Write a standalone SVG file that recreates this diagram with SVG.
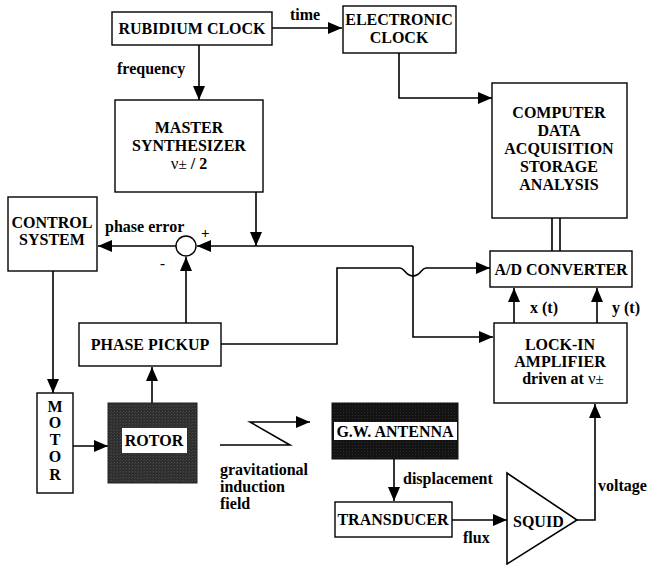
<svg xmlns="http://www.w3.org/2000/svg" width="649" height="565" viewBox="0 0 649 565">
<defs>
<marker id="arr" markerUnits="userSpaceOnUse" markerWidth="16" markerHeight="14" refX="14" refY="6" orient="auto">
<path d="M0,0 L14,6 L0,12 z" fill="#000"/>
</marker>
<pattern id="tex" width="3" height="3" patternUnits="userSpaceOnUse">
<rect width="3" height="3" fill="#2e2e2e"/>
<rect x="0" y="0" width="1" height="1" fill="#4a4a4a"/>
<rect x="2" y="1" width="1" height="1" fill="#404040"/>
</pattern>
<pattern id="tex2" width="3" height="3" patternUnits="userSpaceOnUse">
<rect width="3" height="3" fill="#131313"/>
<rect x="1" y="1" width="1" height="1" fill="#2c2c2c"/>
</pattern>
</defs>
<style>
.box{fill:#fff;stroke:#000;stroke-width:1.4}
.t{font-family:"Liberation Serif","Times New Roman",serif;font-weight:bold;font-size:16px;fill:#000}
.c{text-anchor:middle}
.ln{fill:none;stroke:#000;stroke-width:1.6}
</style>
<rect width="649" height="565" fill="#fff"/>

<g id="connectors">
<path class="ln" d="M272,28 H342" marker-end="url(#arr)"/>
<path class="ln" d="M199,45 V100" marker-end="url(#arr)"/>
<path class="ln" d="M399,53 V98 H492" marker-end="url(#arr)"/>
<path class="ln" d="M552,218 V251 M560,218 V251"/>
<path class="ln" d="M256,192 V246" marker-end="url(#arr)"/>
<path class="ln" d="M413,246 H197" marker-end="url(#arr)"/>
<path class="ln" d="M176,246 H98" marker-end="url(#arr)"/>
<path class="ln" d="M186,323 V257" marker-end="url(#arr)"/>
<path class="ln" d="M413,246 V337 H493" marker-end="url(#arr)"/>
<path class="ln" d="M221,344 H337 V268 H400 C405,268 405,276 413,276 C421,276 421,268 426,268 H490" marker-end="url(#arr)"/>
<path class="ln" d="M514,323 V288" marker-end="url(#arr)"/>
<path class="ln" d="M597,323 V288" marker-end="url(#arr)"/>
<path class="ln" d="M53,271 V393" marker-end="url(#arr)"/>
<path class="ln" d="M73,446 H108" marker-end="url(#arr)"/>
<path class="ln" d="M152,403 V367" marker-end="url(#arr)"/>
<path class="ln" d="M220,445 H290 L250,422 H310" marker-end="url(#arr)"/>
<path class="ln" d="M394,459 V501" marker-end="url(#arr)"/>
<path class="ln" d="M452,520 H507" marker-end="url(#arr)"/>
<path class="ln" d="M577,520 H595 V404" marker-end="url(#arr)"/>
<text class="t" x="290" y="20">time</text>
<text class="t" x="117" y="74">frequency</text>
<text class="t" x="105" y="232">phase error</text>
<text class="t" x="201" y="238" style="font-size:15px">+</text>
<text class="t" x="160" y="268" style="font-size:15px">-</text>
<text class="t" x="530" y="313">x (t)</text>
<text class="t" x="612" y="313">y (t)</text>
<text class="t" x="220" y="475">gravitational</text>
<text class="t" x="220" y="492">induction</text>
<text class="t" x="220" y="509">field</text>
<text class="t" x="403" y="484">displacement</text>
<text class="t" x="463" y="543">flux</text>
<text class="t" x="598" y="491">voltage</text>
</g>

<g id="rubidium">
<rect class="box" x="112" y="12" width="160" height="33"/>
<text class="t c" x="192" y="34">RUBIDIUM CLOCK</text>
</g>
<g id="electronic">
<rect class="box" x="343" y="6" width="113" height="47"/>
<text class="t c" x="399" y="25">ELECTRONIC</text>
<text class="t c" x="399" y="43">CLOCK</text>
</g>
<g id="master">
<rect class="box" x="115" y="100" width="148" height="92"/>
<text class="t c" x="189" y="133">MASTER</text>
<text class="t c" x="189" y="151">SYNTHESIZER</text>
<text class="t c" x="189" y="169"><tspan font-weight="normal" font-size="17">ν</tspan><tspan font-weight="normal" font-size="15">±</tspan> / 2</text>
</g>
<g id="computer">
<rect class="box" x="492" y="83" width="135" height="135"/>
<text class="t c" x="559" y="118">COMPUTER</text>
<text class="t c" x="559" y="136">DATA</text>
<text class="t c" x="559" y="154">ACQUISITION</text>
<text class="t c" x="559" y="172">STORAGE</text>
<text class="t c" x="559" y="190">ANALYSIS</text>
</g>
<g id="control">
<rect class="box" x="8" y="197" width="89" height="74"/>
<text class="t c" x="52" y="228">CONTROL</text>
<text class="t c" x="52" y="245">SYSTEM</text>
</g>
<g id="sum">
<circle cx="186" cy="246" r="10" fill="#fff" stroke="#000" stroke-width="1.4"/>
</g>
<g id="adc">
<rect class="box" x="490" y="251" width="142" height="36"/>
<text class="t c" x="561" y="275">A/D CONVERTER</text>
</g>
<g id="phase">
<rect class="box" x="79" y="323" width="142" height="43"/>
<text class="t c" x="150" y="350">PHASE PICKUP</text>
</g>
<g id="lockin">
<rect class="box" x="494" y="323" width="133" height="80"/>
<text class="t c" x="560" y="350">LOCK-IN</text>
<text class="t c" x="560" y="367">AMPLIFIER</text>
<text class="t c" x="563" y="384">driven at <tspan font-weight="normal" font-size="17">ν</tspan><tspan font-weight="normal" font-size="15">±</tspan></text>
</g>
<g id="motor">
<rect class="box" x="37" y="393" width="36" height="100"/>
<text class="t c" x="55" y="412">M</text>
<text class="t c" x="55" y="428">O</text>
<text class="t c" x="55" y="445">T</text>
<text class="t c" x="55" y="462">O</text>
<text class="t c" x="55" y="480">R</text>
</g>
<g id="rotor">
<rect x="108" y="403" width="89" height="80" fill="url(#tex)" stroke="#222" stroke-width="1"/>
<rect x="122" y="428" width="65" height="25" fill="#fff"/>
<text class="t c" x="154" y="446">ROTOR</text>
</g>
<g id="antenna">
<rect x="332" y="403" width="126" height="56" fill="url(#tex2)" stroke="#111" stroke-width="1"/>
<rect x="334" y="422" width="123" height="18" fill="#fff"/>
<text class="t c" x="395" y="437">G.W. ANTENNA</text>
</g>
<g id="transducer">
<rect class="box" x="335" y="502" width="117" height="35"/>
<text class="t c" x="393" y="525">TRANSDUCER</text>
</g>
<g id="squid">
<path d="M507,473 L577,520 L507,564 z" fill="#fff" stroke="#000" stroke-width="1.6"/>
<text class="t" x="513" y="527">SQUID</text>
</g>
</svg>
